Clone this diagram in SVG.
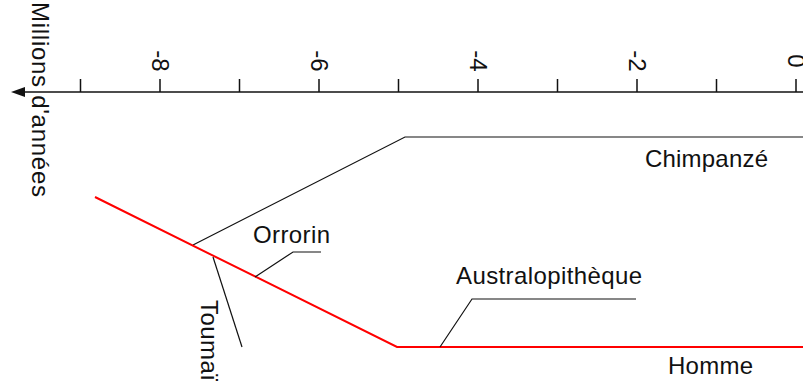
<svg xmlns="http://www.w3.org/2000/svg" width="803" height="383" viewBox="0 0 803 383">
<style>
  text { font-family: "Liberation Sans", Arial, sans-serif; font-size: 24px; fill: #111; }
  .ax { stroke: #111; stroke-width: 1.5; fill: none; }
  .blk { stroke: #111; stroke-width: 1.2; fill: none; }
  .red { stroke: #ff0000; stroke-width: 2; fill: none; }
</style>
<rect width="803" height="383" fill="#ffffff"/>
<g id="axis">
  <line class="ax" x1="20" y1="92" x2="803" y2="92"/>
  <polygon points="11,92 25,87 25,97" fill="#111"/>
  <path class="ax" d="M80.5,79V92 M160,79V92 M239.5,79V92 M319,79V92 M398.5,79V92 M478,79V92 M557.5,79V92 M637,79V92 M716.5,79V92 M796,79V92"/>
  <text transform="translate(151.5,61) rotate(90)" text-anchor="middle">-8</text>
  <text transform="translate(310.5,61) rotate(90)" text-anchor="middle">-6</text>
  <text transform="translate(469.5,61) rotate(90)" text-anchor="middle">-4</text>
  <text transform="translate(628.5,61) rotate(90)" text-anchor="middle">-2</text>
  <text transform="translate(787.5,61) rotate(90)" text-anchor="middle">0</text>
  <text transform="translate(32,2) rotate(90)" textLength="195" lengthAdjust="spacing">Millions d'années</text>
</g>
<g id="connectors">
  <polyline class="blk" points="193,245 405,137 803,137"/>
  <polyline class="red" points="95,197 397,347 803,347"/>
  <polyline class="blk" points="255,277 293,252 321,252"/>
  <polyline class="blk" points="440,347 472,299 636,299"/>
  <line class="blk" x1="213" y1="257" x2="242" y2="347"/>
</g>
<g id="chimpanze"><text x="645" y="167" textLength="123" lengthAdjust="spacing">Chimpanzé</text></g>
<g id="homme"><text x="668" y="374" textLength="85" lengthAdjust="spacing">Homme</text></g>
<g id="australopitheque"><text x="456" y="284" textLength="186" lengthAdjust="spacing">Australopithèque</text></g>
<g id="orrorin"><text x="253" y="243" textLength="77" lengthAdjust="spacing">Orrorin</text></g>
<g id="toumai"><text transform="translate(201,300) rotate(90)" textLength="81" lengthAdjust="spacing">Toumaï</text></g>
</svg>
